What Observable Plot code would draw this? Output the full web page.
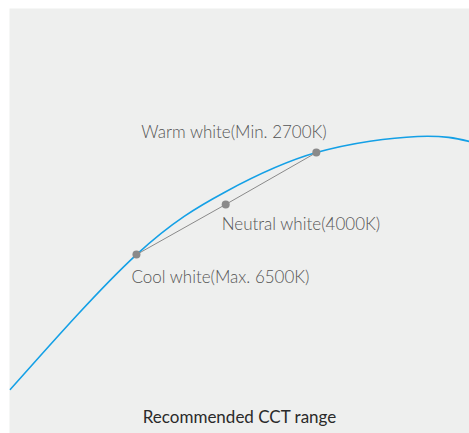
<!DOCTYPE html>
<html>
<head>
<meta charset="utf-8">
<script src="https://cdn.jsdelivr.net/npm/d3@7"></script>
<script src="https://cdn.jsdelivr.net/npm/@observablehq/plot@0.6"></script>
<style>
  html, body { margin: 0; padding: 0; background: #ffffff; }
  #chart svg { display: block; }
</style>
</head>
<body>
<div id="chart"></div>
<script>
// Locus curve (chart units, 0–100)
const curveX = [0.2, 27.6, 47.0, 66.7, 88.7, 100];
const curveY = [10.4, 42.1, 56.9, 66.1, 69.9, 68.7];

// Recommended CCT points
const pointNames = ["Cool white(Max. 6500K)", "Neutral white(4000K)", "Warm white(Min. 2700K)"];
const pointX = [27.6, 47.0, 66.7];
const pointY = [42.1, 53.9, 66.1];

const caption = "Recommended CCT range";

const curve = curveX.map((x, i) => ({x, y: curveY[i]}));
const pts = pointNames.map((name, i) => ({name, x: pointX[i], y: pointY[i]}));

const font = "Lato, 'Noto Sans', sans-serif";
const labelCommon = {x: "x", y: "y", text: "name", textAnchor: "start", lineAnchor: "middle",
  fontSize: 17, fill: "#555555", fontFamily: font, fontWeight: 300};

const chart = Plot.plot({
  width: 469,
  height: 433,
  marginLeft: 9,
  marginTop: 8,
  marginRight: 0,
  marginBottom: 0,
  x: {domain: [0, 100], axis: null},
  y: {domain: [0, 100], axis: null},
  style: {background: "#ffffff", fontFamily: font},
  marks: [
    Plot.frame({fill: "#eeefee", stroke: "none"}),
    Plot.line(curve, {x: "x", y: "y", curve: "natural", stroke: "#14a0e6", strokeWidth: 1.6}),
    Plot.line(pts, {x: "x", y: "y", stroke: "#8a8a8a", strokeWidth: 1}),
    Plot.dot(pts, {x: "x", y: "y", r: 4, fill: "#8a8a8a", stroke: "none"}),
    Plot.text([pts[2]], {...labelCommon, dx: -175, dy: -20}),
    Plot.text([pts[1]], {...labelCommon, dx: -4, dy: 20}),
    Plot.text([pts[0]], {...labelCommon, dx: -5, dy: 23}),
    Plot.text([caption], {frameAnchor: "bottom", text: d => d, textAnchor: "middle", lineAnchor: "middle",
      dy: -16, fontSize: 17, fill: "#2a2a2a", fontFamily: font})
  ]
});
document.getElementById("chart").appendChild(chart);
</script>
</body>
</html>
